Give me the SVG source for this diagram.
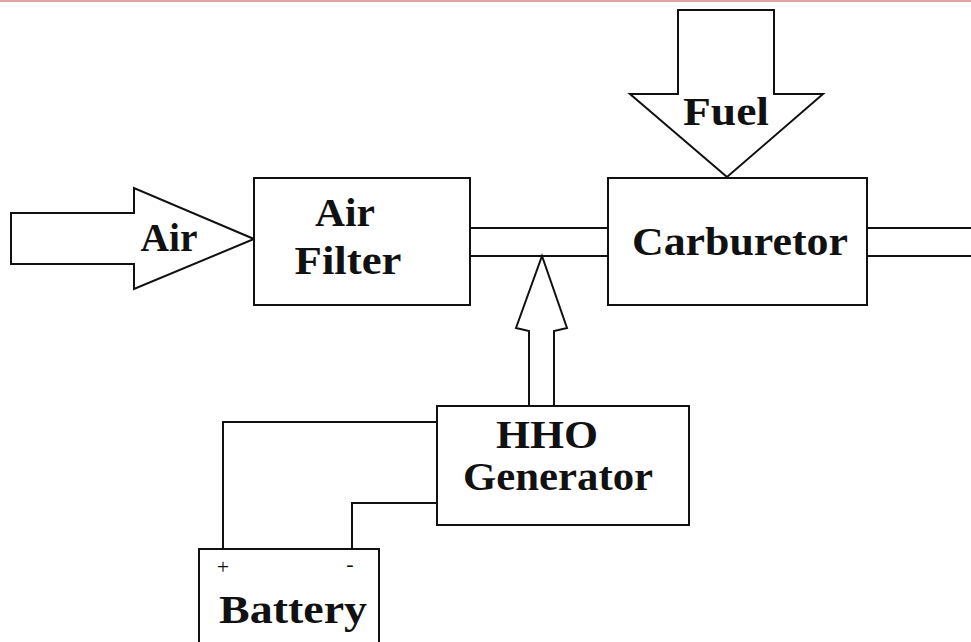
<svg xmlns="http://www.w3.org/2000/svg" width="971" height="642" viewBox="0 0 971 642">
<style>
.s{fill:none;stroke:#111;stroke-width:2;stroke-linejoin:miter}
.b{fill:#fff;stroke:#111;stroke-width:2}
.t{font-family:"Liberation Serif",serif;font-weight:bold;font-size:40px;fill:#111;text-anchor:middle}
.p{font-family:"Liberation Serif",serif;font-size:22px;fill:#111;text-anchor:middle}
</style>
<rect x="0" y="0" width="971" height="642" fill="#fff"/>
<rect x="0" y="0" width="971" height="2" fill="#e3a3a3"/>
<g id="connectors">
<path id="air-arrow" class="s" d="M254,239 L134,188 L134,213 L11,213 L11,264 L134,264 L134,289 Z"/>
<path id="fuel-arrow" class="s" d="M727,177 L630,94 L678,94 L678,10 L774,10 L774,94 L823,94 Z"/>
<path id="hho-arrow" class="s" d="M529,405 L529,331 L516,328 L542,256 L567,328 L554,331 L554,405"/>
<path class="s" d="M471,228 L608,228 M471,256 L608,256"/>
<path class="s" d="M867,228 L971,228 M867,256 L971,256"/>
<path class="s" d="M437,422 L223,422 L223,549"/>
<path class="s" d="M437,503 L352,503 L352,549"/>
</g>
<g id="air-filter">
<rect class="b" x="254" y="178" width="216" height="127"/>
<text class="t" x="345" y="226" textLength="60" lengthAdjust="spacingAndGlyphs">Air</text>
<text class="t" x="348" y="274" textLength="107" lengthAdjust="spacingAndGlyphs">Filter</text>
</g>
<g id="carburetor">
<rect class="b" x="608" y="178" width="259" height="127"/>
<text class="t" x="740" y="255" textLength="216" lengthAdjust="spacingAndGlyphs">Carburetor</text>
</g>
<g id="hho-generator">
<rect class="b" x="437" y="406" width="252" height="119"/>
<text class="t" x="547" y="448" textLength="102" lengthAdjust="spacingAndGlyphs">HHO</text>
<text class="t" x="558" y="490" textLength="190" lengthAdjust="spacingAndGlyphs">Generator</text>
</g>
<g id="battery">
<path class="s" d="M199,642 L199,549 L379,549 L379,642"/>
<text class="p" x="223" y="574">+</text>
<text class="p" x="350" y="571">-</text>
<text class="t" x="293" y="623" textLength="148" lengthAdjust="spacingAndGlyphs">Battery</text>
</g>
<g id="labels">
<text class="t" x="169" y="251" textLength="57" lengthAdjust="spacingAndGlyphs">Air</text>
<text class="t" x="726" y="125" textLength="86" lengthAdjust="spacingAndGlyphs">Fuel</text>
</g>
</svg>
